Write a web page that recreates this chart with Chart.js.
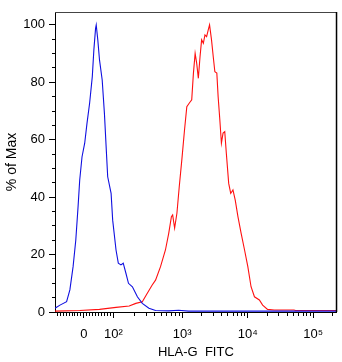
<!DOCTYPE html>
<html><head><meta charset="utf-8">
<script src="https://cdn.jsdelivr.net/npm/chart.js@4"></script>
<style>html,body{margin:0;padding:0;background:#fff;overflow:hidden}</style>
</head><body>
<canvas id="c" width="342" height="362" style="width:342px;height:362px;display:block"></canvas>
<script>
// x positions are in display (biexponential) decade units
const blueX = [1.060,1.136,1.237,1.287,1.336,1.377,1.412,1.437,1.472,1.513,1.548,1.588,1.629,1.653,1.679,1.689,1.713,1.739,1.780,1.814,1.840,1.864,1.916,1.940,1.991,2.026,2.066,2.101,2.142,2.181,2.241,2.317,2.392,2.493,2.594,2.795,2.946,3.097,3.549,4.152,4.756,5.359];
const blueY = [1.3,2.4,3.6,7.7,15.8,25,36.7,46,54,58.8,65.7,72.7,82,91.3,98.8,100,94.8,87.8,80.8,69.2,57.6,47.1,41.3,32,21.6,17,16.4,17,13.5,10,8.8,5.3,3,1.3,0.5,0.4,0.6,0.3,0.3,0.3,0.3,0.3];
const redX = [1.060,1.437,1.739,1.991,2.192,2.293,2.392,2.468,2.543,2.594,2.670,2.745,2.795,2.836,2.855,2.885,2.920,2.956,2.995,3.036,3.071,3.107,3.146,3.172,3.198,3.222,3.247,3.273,3.297,3.323,3.348,3.373,3.398,3.418,3.448,3.474,3.499,3.529,3.549,3.575,3.599,3.624,3.650,3.674,3.710,3.741,3.775,3.810,3.851,3.900,3.952,4.002,4.051,4.103,4.178,4.228,4.303,4.404,4.706,4.730,5.359];
const redY = [0.3,0.5,0.9,1.6,2.1,3.0,3.6,6.5,9.4,11.1,15.8,21.6,27.4,33.2,33.8,29.2,34.4,43.7,53,63.4,71.5,72.7,73.9,83.2,90.1,86.6,81.4,89,94.8,93.6,96.5,95.9,98.3,100,94.8,89,83.7,83.2,75,66.9,58.8,62.3,62.8,55.3,44.8,41.3,42.5,39,33.2,27.4,21.6,15.8,8.8,5.3,4.2,2.4,0.9,0.7,0.7,0.5,0.5];

const xTickValues = [0, 100, 1000, 10000, 100000];
const xTickLabels = ['0', '10²', '10³', '10⁴', '10⁵'];
const xMinorValues = [-90,-80,-70,-60,-50,-40,-30,-20,-10,10,20,30,40,50,60,70,80,90,
  200,300,400,500,600,700,800,900,2000,3000,4000,5000,6000,7000,8000,9000,
  20000,30000,40000,50000,60000,70000,80000,90000,200000];
const yTickValues = [0,5,10,15,20,25,30,35,40,45,50,55,60,65,70,75,80,85,90,95,100];
const yTickLabels = {0:'0',20:'20',40:'40',60:'60',80:'80',100:'100'};

const X_MIN = 1.06, X_MAX = 5.359, Y_MIN = 0, Y_MAX = 104.5;

function disp(v) {
  if (Math.abs(v) <= 100) return 1.5 + 0.0045 * v;
  if (v <= 1000) return 1.95 + 1.05 * Math.log10(v / 100);
  return Math.log10(v);
}

const FONT = "'Liberation Sans', Arial, sans-serif";

const frame = {
  id: 'frame',
  afterDraw(chart) {
    const {ctx, chartArea: a} = chart;
    ctx.save();
    ctx.strokeStyle = '#444';
    ctx.lineWidth = 1;
    ctx.beginPath();
    ctx.moveTo(a.left, a.top + 0.5);
    ctx.lineTo(a.right, a.top + 0.5);
    ctx.stroke();
    ctx.strokeStyle = '#000';
    ctx.lineWidth = 1.5;
    ctx.beginPath();
    ctx.moveTo(a.right - 0.25, a.top);
    ctx.lineTo(a.right - 0.25, a.bottom);
    ctx.stroke();
    ctx.restore();
  }
};

new Chart(document.getElementById('c'), {
  type: 'line',
  data: {
    datasets: [
      { data: blueX.map((x, i) => ({x, y: blueY[i]})), borderColor: '#1010e0', borderWidth: 1.1, pointRadius: 0, tension: 0, fill: false },
      { data: redX.map((x, i) => ({x, y: redY[i]})), borderColor: '#ff1010', borderWidth: 1.1, pointRadius: 0, tension: 0, fill: false }
    ]
  },
  options: {
    responsive: false,
    animation: false,
    devicePixelRatio: 1,
    layout: { padding: { top: 12, right: 2, left: 0, bottom: 0 } },
    plugins: { legend: { display: false }, tooltip: { enabled: false } },
    scales: {
      x: {
        type: 'linear', min: X_MIN, max: X_MAX,
        afterBuildTicks(scale) {
          const t = xTickValues.map((v, i) => ({value: disp(v), lbl: xTickLabels[i]}))
            .concat(xMinorValues.map(v => ({value: disp(v), lbl: ''})))
            .filter(o => o.value >= X_MIN && o.value <= X_MAX)
            .sort((a, b) => a.value - b.value);
          scale.ticks = t;
        },
        afterFit(scale) { scale.height = 50; },
        border: { display: true, color: '#000', width: 1 },
        grid: {
          drawOnChartArea: false, drawTicks: true, tickLength: 6, color: '#000', tickColor: '#000',
          tickBorderDash: (c) => (c.tick && c.tick.lbl) ? [] : [3, 20],
          tickBorderDashOffset: 0
        },
        ticks: {
          autoSkip: false, maxRotation: 0, padding: 9, color: '#000',
          font: { family: FONT, size: 13 },
          callback: (v, i, ticks) => ticks[i].lbl
        },
        title: { display: true, text: 'HLA-G  FITC', color: '#000', font: { family: FONT, size: 13 }, padding: { top: 0, bottom: 2 } }
      },
      y: {
        type: 'linear', min: Y_MIN, max: Y_MAX,
        afterBuildTicks(scale) { scale.ticks = yTickValues.map(v => ({value: v})); },
        afterFit(scale) { scale.width = 55; },
        border: { display: true, color: '#000', width: 1 },
        grid: {
          drawOnChartArea: false, drawTicks: true, tickLength: 6, color: '#000', tickColor: '#000',
          tickBorderDash: (c) => (c.tick && yTickLabels[c.tick.value] !== undefined) ? [] : [3, 3],
          tickBorderDashOffset: (c) => (c.tick && yTickLabels[c.tick.value] !== undefined) ? 0 : 3
        },
        ticks: {
          autoSkip: false, padding: 4, color: '#000',
          font: { family: FONT, size: 13 },
          callback: (v) => yTickLabels[v] !== undefined ? yTickLabels[v] : ''
        },
        title: { display: true, text: '% of Max', color: '#000', font: { family: FONT, size: 14 }, padding: { top: 4, bottom: 0 } }
      }
    }
  },
  plugins: [frame]
});
</script>
</body></html>
